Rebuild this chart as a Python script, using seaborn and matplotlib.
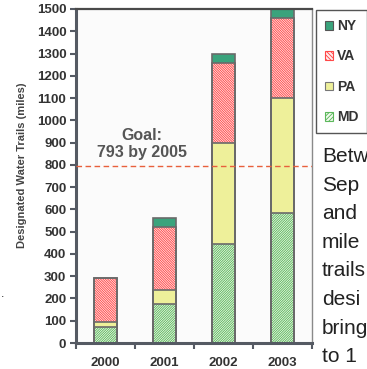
import matplotlib
matplotlib.use("Agg")
import matplotlib.pyplot as plt
from matplotlib.patches import Patch
import numpy as np
import seaborn as sns

# Designated water trail miles by state, stacked per year
years = ["2000", "2001", "2002", "2003"]
md = [70, 176, 443, 582]
pa = [23, 61, 454, 518]
va = [199, 282, 359, 361]
ny = [0, 44, 42, 39]
goal = 793
yticks = list(range(0, 1501, 100))
notes = ["Betw", "Sep", "and", "mile", "trails", "desi", "bring", "to 1"]

sns.set_style("white")
plt.rcParams["font.family"] = ["Liberation Sans", "DejaVu Sans"]
plt.rcParams["hatch.linewidth"] = 0.65

W, H = 367, 369
fig = plt.figure(figsize=(W / 100, H / 100), dpi=100)
ax = fig.add_axes([76 / W, 1 - 343 / H, (312 - 76) / W, (343 - 9) / H])
ax.set_facecolor("#fbfbfb")

c_md = np.array(md)
c_pa = c_md + np.array(pa)
c_va = c_pa + np.array(va)
c_ny = c_va + np.array(ny)

HATCH_VA = "\\" * 14
HATCH_MD = "/" * 14

bw = 0.4
common = dict(x=years, order=years, width=bw, errorbar=None, saturation=1, ax=ax)

# cumulative layers, tallest first so each lower segment is painted over it
sns.barplot(y=c_ny, color="#3aa37c", linewidth=0, **common)
sns.barplot(y=c_va, color="#ffeded", edgecolor="#ff4848", hatch=HATCH_VA, linewidth=0, **common)
sns.barplot(y=c_pa, color="#eef09a", linewidth=0, **common)
sns.barplot(y=c_md, color="#f2faee", edgecolor="#5cb85c", hatch=HATCH_MD, linewidth=0, **common)

# segment outlines
for cum in (c_ny, c_va, c_pa, c_md):
    sns.barplot(y=cum, fill=False, color="#6a6a6a", linewidth=1.2, **common)

# goal line and label
ax.axhline(goal, color="#e8603c", lw=1.0, ls=(0, (4, 2.5)), zorder=5)
ax.text(0.62, 934, "Goal:", ha="center", va="center", fontsize=11.5,
        fontweight="bold", color="#555555")
ax.text(0.62, 857, "793 by 2005", ha="center", va="center", fontsize=11.5,
        fontweight="bold", color="#555555")

ax.set_xlim(-0.5, 3.5)
ax.set_ylim(0, 1500)
ax.set_yticks(yticks)
ax.set_xticks(range(len(years)))
ax.set_xticklabels(years)
ax.set_xticks([-0.5, 0.5, 1.5, 2.5, 3.5], minor=True)
ax.set_xlabel("")
ax.set_ylabel("")

for lab in ax.get_xticklabels() + ax.get_yticklabels():
    lab.set_fontweight("bold")
    lab.set_fontsize(9.5)
    lab.set_color("#333333")

ax.tick_params(axis="y", which="major", direction="out", length=4, width=1.5,
               color="#555a63", pad=3, left=True)
ax.tick_params(axis="x", which="major", length=0, pad=10)
ax.tick_params(axis="x", which="minor", direction="out", length=4, width=1.5,
               color="#555a63", bottom=True)

for side, (col, lw) in {"left": ("#555a63", 2.2), "bottom": ("#555a63", 2.2),
                        "top": ("#4a4a4a", 1.6), "right": ("#8a8a8a", 1.0)}.items():
    ax.spines[side].set_visible(True)
    ax.spines[side].set_color(col)
    ax.spines[side].set_linewidth(lw)

fig.text(22 / W, 1 - 165 / H, "Designated Water Trails (miles)", rotation=90,
         ha="center", va="center", fontsize=8, fontweight="bold", color="#444444")
fig.text(3 / W, 1 - 297 / H, ".", ha="center", va="baseline", fontsize=9,
         color="#222222")

handles = [
    Patch(facecolor="#3aa37c", edgecolor="#555555", linewidth=0.8, label="NY"),
    Patch(facecolor="#ffeded", edgecolor="#ff4848", hatch="\\" * 8, linewidth=0.8, label="VA"),
    Patch(facecolor="#eef09a", edgecolor="#777777", linewidth=0.8, label="PA"),
    Patch(facecolor="#f2faee", edgecolor="#5cb85c", hatch="/" * 8, linewidth=0.8, label="MD"),
]
leg = fig.legend(handles=handles, loc="upper left",
                 bbox_to_anchor=(316 / W, 1 - 10 / H), borderaxespad=0,
                 frameon=True, fancybox=False, shadow=False, framealpha=1,
                 edgecolor="#555555", prop=dict(weight="bold", size=10),
                 handlelength=0.6, handleheight=0.6, handletextpad=0.25,
                 labelspacing=1.18, borderpad=0.65)
leg.get_frame().set_linewidth(1.0)
for t in leg.get_texts():
    t.set_color("#333333")

fig.text(322 / W, 1 - 147 / H, "\n".join(notes), ha="left", va="top",
         fontsize=15, color="#222222", linespacing=1.64)

fig.savefig("out.png", dpi=100)
